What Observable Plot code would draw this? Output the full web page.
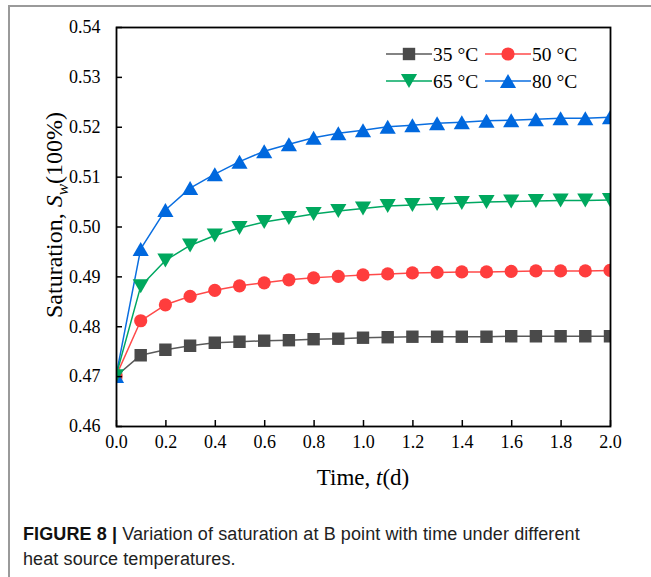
<!DOCTYPE html>
<html>
<head>
<meta charset="utf-8">
<script src="https://cdn.jsdelivr.net/npm/d3@7"></script>
<script src="https://cdn.jsdelivr.net/npm/@observablehq/plot@0.6"></script>
<style>
  body { margin: 0; background: #fff; }
  #fig { position: relative; width: 651px; height: 577px; background: #fff; overflow: hidden; }
  #box { position: absolute; left: 8px; top: 5px; width: 700px; height: 700px; border-left: 2px solid #9a9a9a; border-top: 2px solid #9a9a9a; }
  #chart { position: absolute; left: 0; top: 0; }
  #chart svg text { font-size: 18px; font-family: "Liberation Serif", "Times New Roman", serif; fill: #000; }
  .serif { font-family: "Liberation Serif", "Times New Roman", serif; color: #000; }
  #ylabel { position: absolute; left: 57px; top: 215px; transform: translate(-50%, -50%) rotate(-90deg); font-size: 24px; white-space: nowrap; }
  #xlabel { position: absolute; left: 363px; top: 478px; transform: translate(-50%, -50%); font-size: 23px; white-space: nowrap; }
  #legend { position: absolute; left: 0; top: 0; }
  #caption { position: absolute; left: 23px; top: 522px; font-family: "Liberation Sans", Arial, sans-serif; font-size: 18px; letter-spacing: 0.1px; line-height: 25px; color: #222; width: 625px; white-space: nowrap; }
  #caption b { color: #111; }
</style>
</head>
<body>
<div id="fig">
  <div id="box"></div>
  <div id="chart"></div>
  <div id="ylabel" class="serif">Saturation, <i>S</i><sub style="font-size:17px"><i>w</i></sub>(100%)</div>
  <div id="xlabel" class="serif">Time, <i>t</i>(d)</div>
  <svg id="legend" width="651" height="120"></svg>
  <div id="caption"><b>FIGURE 8 |</b> Variation of saturation at B point with time under different<br>heat source temperatures.</div>
</div>
<script>
// ---- data ----
const times = [0.0,0.1,0.2,0.3,0.4,0.5,0.6,0.7,0.8,0.9,1.0,1.1,1.2,1.3,1.4,1.5,1.6,1.7,1.8,1.9,2.0];
const seriesNames = ["35 °C", "50 °C", "65 °C", "80 °C"];
const s35 = [0.4700,0.4742,0.4753,0.4761,0.4767,0.4769,0.4771,0.4772,0.4774,0.4775,0.4777,0.4778,0.4779,0.4779,0.4779,0.4779,0.4780,0.4780,0.4780,0.4780,0.4780];
const s50 = [0.4700,0.4811,0.4843,0.4860,0.4872,0.4881,0.4887,0.4893,0.4897,0.4900,0.4903,0.4905,0.4907,0.4908,0.4909,0.4909,0.4910,0.4911,0.4911,0.4911,0.4912];
const s65 = [0.4700,0.4880,0.4932,0.4962,0.4982,0.4997,0.5009,0.5017,0.5025,0.5031,0.5036,0.5041,0.5043,0.5045,0.5047,0.5049,0.5050,0.5051,0.5052,0.5052,0.5053];
const s80 = [0.4700,0.4955,0.5033,0.5077,0.5105,0.5130,0.5151,0.5165,0.5178,0.5187,0.5193,0.5200,0.5203,0.5207,0.5209,0.5212,0.5213,0.5215,0.5217,0.5217,0.5219];
const xTicks = [0.0,0.2,0.4,0.6,0.8,1.0,1.2,1.4,1.6,1.8,2.0];
const yTicks = [0.46,0.47,0.48,0.49,0.50,0.51,0.52,0.53,0.54];

// ---- styles ----
const lineColors = ["#5a5a5a", "#ff4a4a", "#00a862", "#0a6ee0"];
const markColors = ["#4a4a4a", "#ff3d3d", "#00a85e", "#0068de"];

// symbols whose bounding box is centred on the point
const sq = {draw(ctx, size) { const h = Math.sqrt(size) / 2; ctx.rect(-h, -h, 2 * h, 2 * h); }};
const triUp = {draw(ctx, size) { const s = Math.sqrt(size * 4 / Math.sqrt(3)); const h = s * Math.sqrt(3) / 2; ctx.moveTo(0, -h / 2); ctx.lineTo(s / 2, h / 2); ctx.lineTo(-s / 2, h / 2); ctx.closePath(); }};
const triDown = {draw(ctx, size) { const s = Math.sqrt(size * 4 / Math.sqrt(3)); const h = s * Math.sqrt(3) / 2; ctx.moveTo(0, h / 2); ctx.lineTo(s / 2, -h / 2); ctx.lineTo(-s / 2, -h / 2); ctx.closePath(); }};
const symbols = [sq, "circle", triDown, triUp];
const radii = [7.0, 6.6, 6.0, 6.0];

const allSeries = [s35, s50, s65, s80];
const rows = allSeries.map((vals, k) => vals.map((v, i) => ({t: times[i], s: v, k})));

const order = [0, 1, 3, 2];
const marks = [];
for (const k of order) {
  marks.push(Plot.line(rows[k], {x: "t", y: "s", stroke: lineColors[k], strokeWidth: 1.5}));
  marks.push(Plot.dot(rows[k], {x: "t", y: "s", fill: markColors[k], r: radii[k], symbol: symbols[k]}));
}

const W = 651, H = 490, ML = 116, MR = 41, MT = 27, MB = 64;
const chart = Plot.plot({
  width: W,
  height: H,
  marginLeft: ML,
  marginRight: MR,
  marginTop: MT,
  marginBottom: MB,
  style: {fontFamily: "'Liberation Serif', 'Times New Roman', serif", fontSize: "18px", color: "#000", background: "transparent"},
  x: {domain: [0, 2]},
  y: {domain: [0.46, 0.54]},
  marks: [
    ...marks,
    Plot.axisX({ticks: xTicks, tickFormat: d => d.toFixed(1), tickSize: -6, tickPadding: 15, fontSize: 18, label: null, strokeWidth: 1.5}),
    Plot.axisY({ticks: yTicks, tickFormat: d => d.toFixed(2), tickSize: -6, tickPadding: 22, fontSize: 18, label: null, strokeWidth: 1.5}),
    Plot.frame({stroke: "#000", strokeWidth: 1.8})
  ]
});
document.getElementById("chart").appendChild(chart);

// clip data marks (lines and dots) to the plotting frame
const root = chart.tagName.toLowerCase() === "svg" ? chart : chart.querySelector("svg");
const svg = d3.select(root);
svg.insert("defs", ":first-child").append("clipPath").attr("id", "frameclip")
  .attr("clipPathUnits", "userSpaceOnUse")
  .append("rect").attr("x", ML + 0.5).attr("y", MT).attr("width", W - ML - MR).attr("height", H - MT - MB);
root.querySelectorAll("g").forEach(g => {
  const a = g.getAttribute("aria-label") || "";
  if (a === "line" || a === "dot") {
    g.removeAttribute("transform");
    g.setAttribute("clip-path", "url(#frameclip)");
  }
});

// ---- legend ----
const lg = d3.select("#legend");
const legendPos = [[386, 54], [485, 54], [386, 81], [485, 81]];
seriesNames.forEach((name, k) => {
  const [x0, y0] = legendPos[k];
  const g = lg.append("g");
  g.append("line").attr("x1", x0).attr("x2", x0 + 46).attr("y1", y0).attr("y2", y0)
    .attr("stroke", lineColors[k]).attr("stroke-width", 1.5);
  const sym = typeof symbols[k] === "string" ? d3.symbolCircle : symbols[k];
  g.append("path").attr("d", d3.symbol(sym, Math.PI * radii[k] * radii[k])())
    .attr("transform", `translate(${x0 + 23},${y0})`).attr("fill", markColors[k]);
  g.append("text").attr("x", x0 + 47).attr("y", y0).attr("dy", "0.35em")
    .attr("font-family", "'Liberation Serif', 'Times New Roman', serif").attr("font-size", 19.5)
    .attr("fill", "#000").text(name);
});
</script>
</body>
</html>
